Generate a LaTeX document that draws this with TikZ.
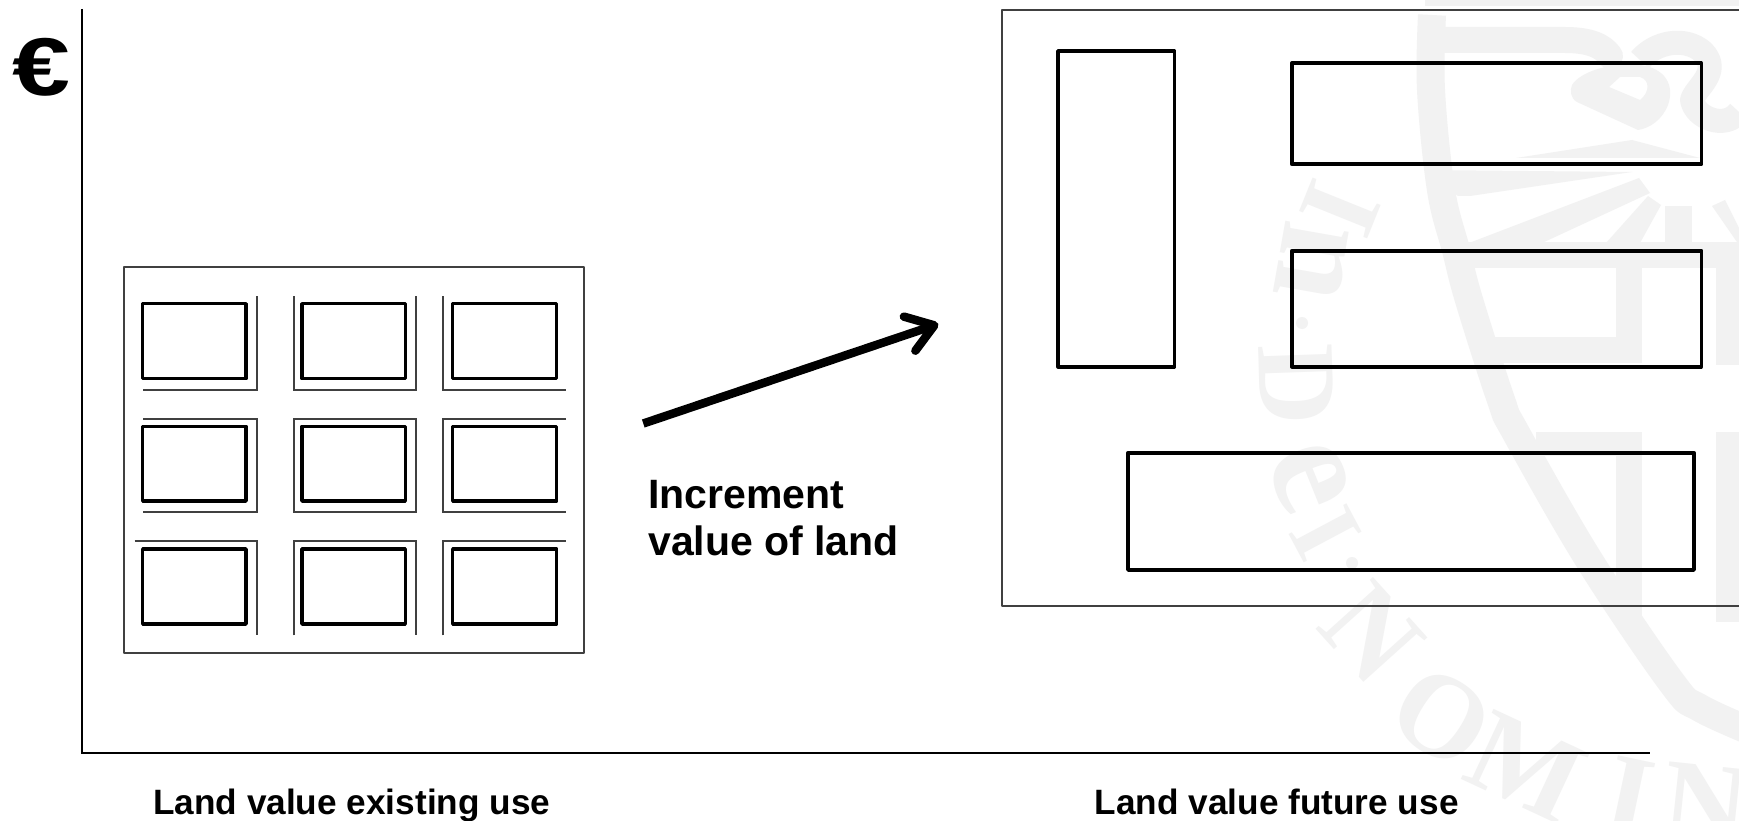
\documentclass[tikz,border=0pt]{standalone}
\usepackage{fontspec}
\setmainfont{Liberation Sans}
\newfontfamily\wmserif{Liberation Serif}
\usetikzlibrary{arrows.meta}
\definecolor{wm}{HTML}{F2F2F2}
\definecolor{thinline}{HTML}{404040}
\tikzset{
  wmstroke/.style={draw=wm,line join=round,line cap=butt},
  wmletter/.style={text=wm,inner sep=0pt},
  plotframe/.style={draw=thinline,line width=2pt,line join=round},
  lotline/.style={draw=thinline,line width=1.7pt,line join=miter},
  building/.style={draw=black,line width=3.4pt,line join=round},
  axisline/.style={draw=black,line width=2.4pt},
  biglabel/.style={font=\bfseries\fontsize{35.2}{42}\selectfont,inner sep=0pt,anchor=base west,text=black},
}
\begin{document}
\begin{tikzpicture}[x=1pt,y=-1pt]
\useasboundingbox (0,0) rectangle (1739,821);
\fill[white] (0,0) rectangle (1739,821);
% ---- watermark
\begin{scope}
\clip (0,0) rectangle (1739,821);
\fill[wm] (1425,0) rectangle (1739,6);
\draw[wmstroke,line width=28pt] plot[smooth,tension=.6] coordinates {(1432,15) (1431,90) (1441,190) (1456,250) (1469,300) (1501,400) (1516,433) (1589,560) (1672,683) (1700,708) (1760,735)};
\draw[wmstroke,line width=26pt,line cap=round] (1445,40) -- (1565,40) .. controls (1590,40) and (1603,46) .. (1610,56);
\fill[wm,even odd rule] (1572,85) .. controls (1580,72) and (1610,62) .. (1640,65) .. controls (1665,68) and (1675,85) .. (1668,105) .. controls (1662,120) and (1650,128) .. (1638,130) -- (1577,102) .. controls (1570,98) and (1570,90) .. (1572,85) -- cycle
  (1609,87) -- (1640,100) .. controls (1650,92) and (1650,80) .. (1640,77) -- (1620,77) -- cycle;
\draw[wmstroke,line width=24pt] (1640,60) .. controls (1655,42) and (1685,36) .. (1703,52) .. controls (1722,72) and (1695,88) .. (1692,100) .. controls (1695,118) and (1725,130) .. (1739,112);
\fill[wm] (1632,140) -- (1516,158) -- (1700,158) -- cycle;
\fill[wm] (1424,170) -- (1632,172) -- (1470,196) -- (1458,196) -- cycle;
\fill[wm] (1639,178) -- (1469,243) -- (1542,243) -- (1650,193) -- cycle;
\fill[wm] (1648,196) -- (1606,243) -- (1640,243) -- (1661,205) -- cycle;
\fill[wm] (1665,206) rectangle (1692,245);
\fill[wm] (1712,206) -- (1739,245) -- (1739,228) -- (1725,200) -- cycle;
\fill[wm] (1456,242) rectangle (1739,268);
\fill[wm] (1616,268) rectangle (1642,363);
\fill[wm] (1716,268) rectangle (1739,365);
\fill[wm] (1495,337) rectangle (1642,363);
\fill[wm] (1536,432) rectangle (1642,456);
\fill[wm] (1616,432) rectangle (1642,622);
\fill[wm] (1716,432) rectangle (1739,622);
\node[wmletter,rotate=-112,font=\wmserif\bfseries\fontsize{112}{112}\selectfont] (wmI) at (1340,208) {I};
\node[wmletter,rotate=-100,font=\wmserif\bfseries\fontsize{140}{140}\selectfont] (wmn) at (1312,262) {n};
\fill[wm] (1302,323) circle (6);
\node[wmletter,rotate=-88,font=\wmserif\bfseries\fontsize{112}{112}\selectfont] (wmD) at (1296,385) {D};
\node[wmletter,rotate=-68,font=\wmserif\bfseries\fontsize{150}{150}\selectfont] (wme) at (1309,477) {e};
\node[wmletter,rotate=-62,font=\wmserif\bfseries\fontsize{100}{100}\selectfont] (wmi) at (1326,533) {I};
\fill[wm] (1352,563) circle (6);
\node[wmletter,rotate=-48,font=\wmserif\bfseries\fontsize{118}{118}\selectfont] (wmN) at (1372,633) {N};
\node[wmletter,rotate=-33,font=\wmserif\bfseries\fontsize{118}{118}\selectfont] (wmO) at (1442,717) {O};
\node[wmletter,rotate=-25,font=\wmserif\bfseries\fontsize{118}{118}\selectfont] (wmM) at (1526,767) {M};
\node[wmletter,rotate=-12,font=\wmserif\bfseries\fontsize{118}{118}\selectfont] (wmII) at (1629,797) {I};
\node[wmletter,rotate=-6,font=\wmserif\bfseries\fontsize{118}{118}\selectfont] (wmNN) at (1706,805) {N};
\end{scope}
% ---- axes
\coordinate (origin) at (82,753);
\coordinate (ytop) at (82,9);
\coordinate (xend) at (1650,753);
\draw[axisline] (ytop) -- (origin) -- (xend);
\node[inner sep=0pt,anchor=center,xscale=1.27,font=\bfseries\fontsize{82}{82}\selectfont] (euro) at (41,67) {€};
% ---- left plot
\draw[plotframe] (124.3,267.3) rectangle (584.3,653.3);
\foreach \xa/\xb in {142.7/246,302/405.3,452.7/556.7}
  \foreach \ya/\yb in {303.7/378.7,426.3/501,549/624}
    \draw[building] (\xa,\ya) rectangle (\xb,\yb);
% street edges, row 1
\draw[lotline] (257,296) -- (257,390) -- (143.3,390);
\draw[lotline] (294,296) -- (294,390) -- (416.3,390) -- (416.3,296);
\draw[lotline] (443.3,296) -- (443.3,390) -- (566,390);
% row 2
\draw[lotline] (143.3,418.7) -- (257,418.7) -- (257,512.3) -- (143.3,512.3);
\draw[lotline] (294,418.7) rectangle (416.3,512.3);
\draw[lotline] (566,418.7) -- (443.3,418.7) -- (443.3,512.3) -- (566,512.3);
% row 3
\draw[lotline] (134.7,541) -- (257,541) -- (257,635.3);
\draw[lotline] (294,635.3) -- (294,541) -- (416.3,541) -- (416.3,635.3);
\draw[lotline] (443.3,635.3) -- (443.3,541) -- (566,541);
% ---- arrow
\coordinate (arrowtail) at (643.3,423.5);
\coordinate (arrowtip) at (938.3,324);
\draw[line width=8.5pt,-{Straight Barb[length=26pt,width=36pt,line width=8.5pt,round]}] (arrowtail) -- (arrowtip);
\node[inner sep=0pt,anchor=west,align=left,font=\bfseries\fontsize{41}{46.3}\selectfont] (increment) at (648,518) {Increment\\value of land};
% ---- right plot
\draw[plotframe] (1739,10) -- (1001.5,10) -- (1001.5,606) -- (1739,606);
\draw[building,line width=3.6pt] (1058,51) rectangle (1174.5,366.7);
\draw[building,line width=3.6pt] (1291.7,63.3) rectangle (1701.3,164.3);
\draw[building,line width=3.6pt] (1291.7,250.7) rectangle (1701.3,366.7);
\draw[building,line width=3.6pt] (1128,452.7) rectangle (1694,570);
% ---- labels
\node[biglabel] (existing) at (153,814) {Land value existing use};
\node[biglabel] (future) at (1094.6,814) {Land value future use};
\end{tikzpicture}
\end{document}
